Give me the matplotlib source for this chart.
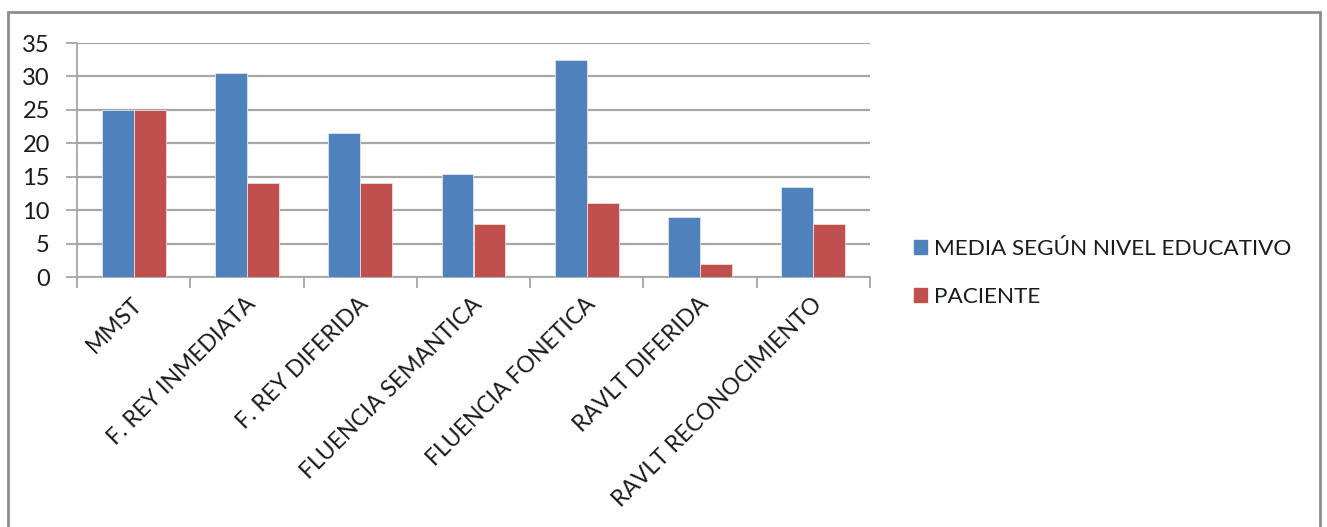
import matplotlib
matplotlib.use("Agg")
import matplotlib.pyplot as plt
import matplotlib.patches as mpatches
import numpy as np

plt.rcParams['font.family'] = ['Lato', 'DejaVu Sans']

categorias = ['MMST', 'F. REY INMEDIATA', 'F. REY DIFERIDA', 'FLUENCIA SEMANTICA',
              'FLUENCIA FONETICA', 'RAVLT DIFERIDA', 'RAVLT RECONOCIMIENTO']
media = [25, 30.5, 21.5, 15.4, 32.5, 8.9, 13.5]
paciente = [25, 14, 14, 8, 11, 2, 8]
series = ['MEDIA SEGÚN NIVEL EDUCATIVO', 'PACIENTE']
y_ticks = [0, 5, 10, 15, 20, 25, 30, 35]

azul = '#4F81BD'
rojo = '#C0504D'
gris = '#A6A6A6'
texto = '#1a1a1a'

W, H = 1327, 527
fig = plt.figure(figsize=(W / 100, H / 100), dpi=100)
ax = fig.add_axes([77 / W, (H - 277) / H, (870 - 77) / W, (277 - 43) / H])

x = np.arange(len(categorias))
ancho = 0.282
ax.bar(x - ancho / 2, media, ancho, color=azul, edgecolor='#DCE6F2', linewidth=0.6, zorder=3)
ax.bar(x + ancho / 2, paciente, ancho, color=rojo, edgecolor='#F2DCDB', linewidth=0.6, zorder=3)

ax.set_xlim(-0.5, len(categorias) - 0.5)
ax.set_ylim(0, 35)
ax.set_yticks(y_ticks)
ax.yaxis.grid(True, color=gris, linewidth=1.6, zorder=0)
ax.tick_params(axis='y', length=8, width=1.3, color=gris, pad=11.5, labelsize=17,
               labelcolor=texto)

# marcas del eje x entre categorias
ax.set_xticks(np.arange(len(categorias) + 1) - 0.5)
ax.set_xticklabels([])
ax.tick_params(axis='x', length=8, width=1.3, color=gris)
for i, c in enumerate(categorias):
    ax.annotate(c, xy=(i + 0.06, 0), xycoords=('data', 'axes fraction'),
                xytext=(-2, -24), textcoords='offset pixels',
                rotation=45, rotation_mode='anchor', ha='right', va='center',
                fontsize=16.5, color=texto)

for s in ['top', 'right']:
    ax.spines[s].set_visible(False)
for s in ['left', 'bottom']:
    ax.spines[s].set_color(gris)
    ax.spines[s].set_linewidth(1.3)

handles = [mpatches.Patch(color=azul), mpatches.Patch(color=rojo)]
fig.legend(handles, series, loc='center left', bbox_to_anchor=(903 / W, 1 - 273 / H),
           frameon=False, fontsize=16.2, handlelength=0.55, handleheight=0.55,
           handletextpad=0.35, labelspacing=1.25, borderpad=0, labelcolor=texto)

# marco exterior
fig.add_artist(mpatches.Rectangle((8 / W, -0.05), (1320 - 8) / W, 1.05 - 12 / H,
                                  transform=fig.transFigure, fill=False,
                                  edgecolor='#8C8C8C', linewidth=2))

fig.savefig('out.png', dpi=100)
